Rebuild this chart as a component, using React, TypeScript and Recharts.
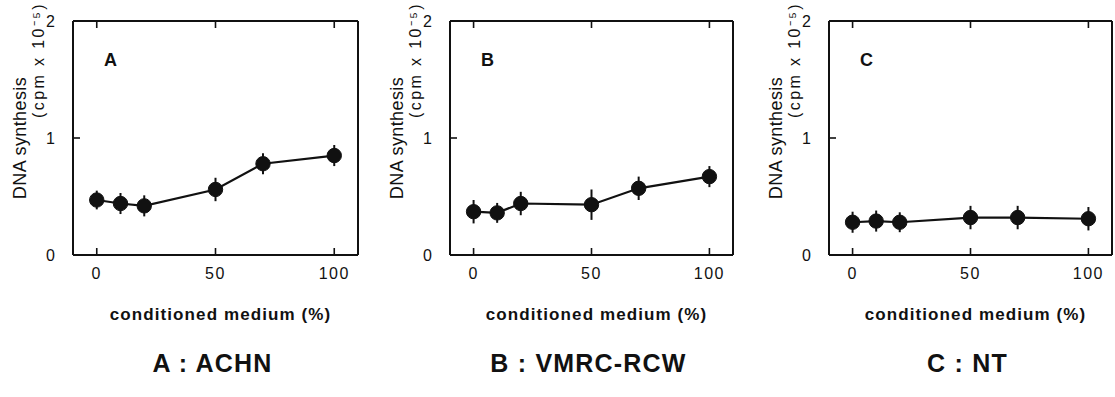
import React from 'react';
import { LineChart, Line, XAxis, YAxis, ErrorBar } from 'recharts';

const concentrations = [0, 10, 20, 50, 70, 100];
const achnValues = [0.47, 0.44, 0.42, 0.56, 0.78, 0.85];
const achnErrors = [0.08, 0.09, 0.09, 0.1, 0.09, 0.09];
const vmrcValues = [0.37, 0.36, 0.44, 0.43, 0.57, 0.67];
const vmrcErrors = [0.1, 0.085, 0.1, 0.13, 0.1, 0.09];
const ntValues = [0.28, 0.29, 0.28, 0.32, 0.32, 0.31];
const ntErrors = [0.09, 0.09, 0.085, 0.1, 0.1, 0.1];

const xTicks = [0, 50, 100];
const yTicks = [0, 1, 2];
const panelLetters = ['A', 'B', 'C'];
const panelTitles = ['A : ACHN', 'B : VMRC-RCW', 'C : NT'];
const xAxisLabel = 'conditioned medium (%)';
const yAxisLabel1 = 'DNA synthesis';
const yAxisLabel2 = '(cpm x 10\u207B\u2075)';

const FONT = '"Liberation Sans", Arial, Helvetica, sans-serif';
const INK = '#111';

const W = 1115;
const H = 397;
const PLOT_TOP = 21;
const PLOT_BOTTOM = 255;
const LEFT_SPACE = 73;
const AX = 1;

const layouts = [
  { plotLeft: 73, plotRight: 358 },
  { plotLeft: 450, plotRight: 733 },
  { plotLeft: 829, plotRight: 1112 },
];

const makeData = (vals: number[], errs: number[]) =>
  concentrations.map((c, i) => ({ x: c, y: vals[i], err: errs[i] }));

const seriesData = [
  makeData(achnValues, achnErrors),
  makeData(vmrcValues, vmrcErrors),
  makeData(ntValues, ntErrors),
];

const BottomTick = (props: any) => {
  const { x, y, payload } = props;
  return (
    <g>
      <line x1={x} x2={x} y1={y} y2={y - 7} stroke={INK} strokeWidth={1.6} />
      <text x={x} y={y + 24} textAnchor="middle" fontFamily={FONT} fontSize={16} letterSpacing={1.5} fill={INK}>
        {payload.value}
      </text>
    </g>
  );
};

const TopTick = (props: any) => {
  const { x, y } = props;
  return <line x1={x} x2={x} y1={y} y2={y + 7} stroke={INK} strokeWidth={1.6} />;
};

const LeftTick = (props: any) => {
  const { x, y, payload } = props;
  return (
    <g>
      {payload.value === 1 && <line x1={x} x2={x + 7} y1={y} y2={y} stroke={INK} strokeWidth={1.6} />}
      <text x={x - 18} y={y} dy="0.36em" textAnchor="end" fontFamily={FONT} fontSize={16} fill={INK}>
        {payload.value}
      </text>
    </g>
  );
};

const RightTick = (props: any) => {
  const { x, y, payload } = props;
  if (payload.value !== 1) return <g />;
  return <line x1={x} x2={x - 7} y1={y} y2={y} stroke={INK} strokeWidth={1.6} />;
};

const Panel = ({ idx }: { idx: number }) => {
  const { plotLeft, plotRight } = layouts[idx];
  const chartLeft = plotLeft - LEFT_SPACE;
  const chartRight = Math.min(plotRight + 3, W);
  const chartWidth = chartRight - chartLeft;
  const margin = {
    top: PLOT_TOP - AX,
    bottom: H - PLOT_BOTTOM - AX,
    left: LEFT_SPACE - AX,
    right: chartRight - plotRight - AX,
  };
  const axisLine = { stroke: INK, strokeWidth: 2 };

  const yLabel = (p: any) => {
    const vb = p.viewBox || {};
    const px = vb.x + (vb.width || 0);
    const cx1 = px - 47;
    const cy1 = vb.y + vb.height / 2;
    const cx2 = px - 29;
    const cy2 = vb.y + 39;
    return (
      <g>
        <text x={cx1} y={cy1} transform={`rotate(-90 ${cx1} ${cy1})`} textAnchor="middle" fontFamily={FONT} fontSize={18} letterSpacing={0.4} fill={INK}>
          {yAxisLabel1}
        </text>
        <text x={cx2} y={cy2} transform={`rotate(-90 ${cx2} ${cy2})`} textAnchor="middle" fontFamily={FONT} fontSize={16} letterSpacing={2.4} fill={INK}>
          {yAxisLabel2}
        </text>
      </g>
    );
  };

  const xLabel = (p: any) => {
    const vb = p.viewBox || {};
    const cx = vb.x + vb.width / 2;
    return (
      <g>
        <text x={cx + 5} y={vb.y + 65} textAnchor="middle" fontFamily={FONT} fontSize={17} fontWeight="bold" letterSpacing={1.1} fill={INK}>
          {xAxisLabel}
        </text>
        <text x={cx - 3} y={vb.y + 117} textAnchor="middle" fontFamily={FONT} fontSize={25} fontWeight="bold" letterSpacing={1.2} fill={INK}>
          {panelTitles[idx]}
        </text>
      </g>
    );
  };

  const letterLabel = (p: any) => {
    const vb = p.viewBox || {};
    const top = vb.y + (vb.height || 0);
    return (
      <text x={vb.x + 31} y={top + 45} fontFamily={FONT} fontSize={18} fontWeight="bold" fill={INK}>
        {panelLetters[idx]}
      </text>
    );
  };

  return (
    <div style={{ position: 'absolute', left: chartLeft, top: 0, width: chartWidth, height: H }}>
      <LineChart width={chartWidth} height={H} data={seriesData[idx]} margin={margin}>
        <XAxis
          dataKey="x"
          type="number"
          domain={[-10, 110]}
          ticks={xTicks}
          height={AX}
          tickSize={0}
          tickMargin={0}
          tickLine={false}
          axisLine={axisLine}
          tick={<BottomTick />}
          interval={0}
          label={{ content: xLabel }}
        />
        <XAxis
          xAxisId="top"
          orientation="top"
          dataKey="x"
          type="number"
          domain={[-10, 110]}
          ticks={xTicks}
          height={AX}
          tickSize={0}
          tickMargin={0}
          tickLine={false}
          axisLine={axisLine}
          tick={<TopTick />}
          interval={0}
          label={{ content: letterLabel }}
        />
        <YAxis
          type="number"
          domain={[0, 2]}
          ticks={yTicks}
          width={AX}
          tickSize={0}
          tickMargin={0}
          tickLine={false}
          axisLine={axisLine}
          tick={<LeftTick />}
          interval={0}
          label={{ content: yLabel }}
        />
        <YAxis
          yAxisId="right"
          orientation="right"
          type="number"
          domain={[0, 2]}
          ticks={yTicks}
          width={AX}
          tickSize={0}
          tickMargin={0}
          tickLine={false}
          axisLine={axisLine}
          tick={<RightTick />}
          interval={0}
        />
        <Line
          dataKey="y"
          type="linear"
          stroke={INK}
          strokeWidth={2.2}
          dot={{ r: 7.2, fill: INK, stroke: INK, strokeWidth: 1 }}
          activeDot={false}
          isAnimationActive={false}
        >
          <ErrorBar dataKey="err" direction="y" width={0} stroke={INK} strokeWidth={2} isAnimationActive={false} />
        </Line>
      </LineChart>
    </div>
  );
}

export default function App() {
  return (
    <div style={{ position: 'absolute', left: 0, top: 0, width: W, height: H, background: '#fff', overflow: 'hidden' }}>
      {layouts.map((_, i) => (
        <Panel key={i} idx={i} />
      ))}
    </div>
  );
}
